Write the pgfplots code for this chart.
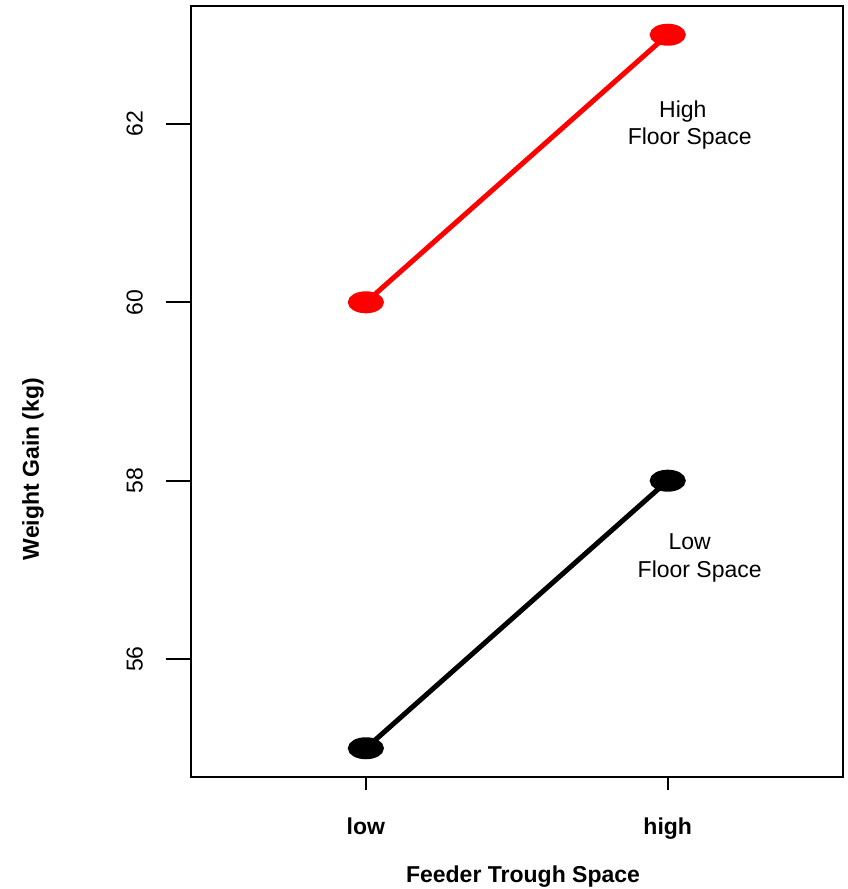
\documentclass[border=0pt]{standalone}
\usepackage{pgfplots}
\pgfplotsset{compat=1.18}
\usepackage{fontspec}
\setmainfont{Liberation Sans}
\begin{document}
\fontsize{23bp}{27bp}\selectfont
\begin{tikzpicture}
\begin{axis}[
  scale only axis,
  width=652bp, height=770.6bp,
  xmin=0.42, xmax=2.58, ymin=54.68, ymax=63.32,
  axis line style={line width=2bp},
  xtick={1,2}, xticklabels={low,high},
  ytick={56,58,60,62},
  tick align=outside,
  xtick pos=bottom, ytick pos=left,
  xtick style={line width=2bp, black, /pgfplots/major tick length=13bp},
  ytick style={line width=2bp, black, /pgfplots/major tick length=25bp},
  /pgf/number format/assume math mode=true,
  xticklabel style={font=\bfseries, anchor=base, inner sep=0pt, yshift=-53.2bp},
  yticklabel style={rotate=90, anchor=base, inner sep=0pt, yshift=43.8bp},
  clip=false,
]
\addplot[red, line width=5bp, mark=*, mark size=8.5bp, mark options={xscale=1.82, solid, fill=red}] coordinates {(1,60) (2,63)};
\addplot[black, line width=5bp, mark=*, mark size=8.5bp, mark options={xscale=1.82, solid, fill=black}] coordinates {(1,55) (2,58)};
\node[anchor=base, inner sep=0pt] at (axis cs:2.05,62.067) {High};
\node[anchor=base, inner sep=0pt] at (axis cs:2.073,61.765) {Floor Space};
\node[anchor=base, inner sep=0pt] at (axis cs:2.073,57.227) {Low};
\node[anchor=base, inner sep=0pt] at (axis cs:2.106,56.913) {Floor Space};
\end{axis}
\node[anchor=base, inner sep=0pt, font=\bfseries] at (332.2bp,-105.2bp) {Feeder Trough Space};
\node[anchor=base, inner sep=0pt, font=\bfseries, rotate=90] at (-151.8bp,307.8bp) {Weight Gain (kg)};
\pgfresetboundingbox
\path (-190.8bp,-112.2bp) rectangle (657.2bp,776.8bp);
\end{tikzpicture}
\end{document}
